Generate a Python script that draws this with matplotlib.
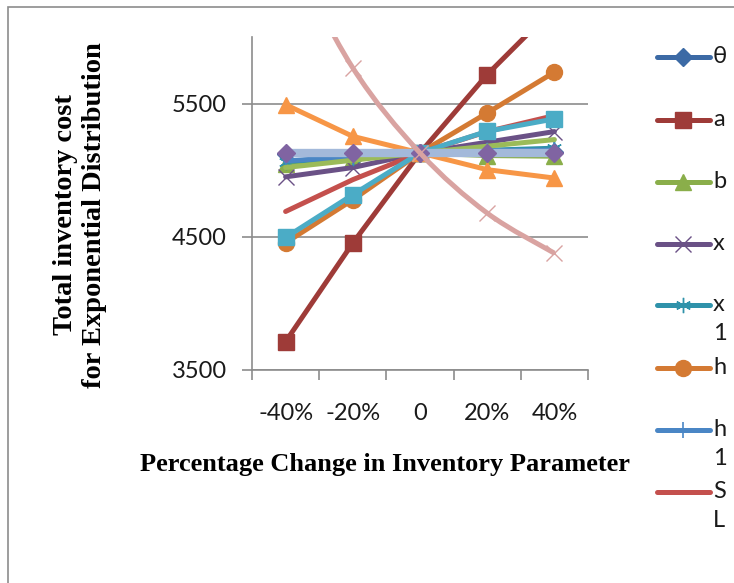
import matplotlib
matplotlib.use('Agg')
import matplotlib.pyplot as plt
from matplotlib.lines import Line2D
from matplotlib.path import Path
from matplotlib.patches import PathPatch, Rectangle

# sensitivity of total cost to each inventory parameter
changes = ['-40%', '-20%', '0', '20%', '40%']

theta = [5120, 5125, 5130, 5135, 5140]
a_cost = [3713, 4453, 5130, 5718, 6222]
b_cost = [5045, 5090, 5130, 5110, 5105]
x_cost = [4950, 5020, 5130, 5210, 5290]
x1_cost = [5065, 5095, 5130, 5150, 5165]
h_cost = [4455, 4778, 5130, 5430, 5736]
h1_cost = [5070, 5100, 5130, 5145, 5150]
sl_cost = [4690, 4929, 5130, 5290, 5410]
p9_cost = [4495, 4816, 5130, 5292, 5385]
p10_cost = [5020, 5075, 5130, 5180, 5230]
p11_cost = [5492, 5254, 5130, 5004, 4941]
p12_cost = [5130, 5130, 5130, 5130, 5130]
p13_cost = [5130, 5130, 5130, 5130, 5130]
p14_cost = [6700, 5768, 5130, 4678, 4377]

legend_names = ['θ', 'a', 'b', 'x', 'x\n1', 'h', 'h\n1', 'S\nL']

W, H = 734, 583
fig = plt.figure(figsize=(W / 100, H / 100), dpi=100)
ax = fig.add_axes([252 / W, 1 - 370 / H, 336 / W, 333 / H])

# frame round the chart area
fig.add_artist(Rectangle((8 / W, -0.1), 1.2, 1 - 7 / H + 0.1, transform=fig.transFigure,
                         fill=False, edgecolor='#8c8c8c', linewidth=1.2))

xs = list(range(len(changes)))
lw = 3.6

series = [
    (theta, dict(color='#3C6AA5', marker='D', ms=9)),
    (a_cost, dict(color='#9E3B38', marker='s', ms=11.5)),
    (b_cost, dict(color='#8AAE4A', marker='^', ms=12)),
    (x_cost, dict(color='#6A5186', marker='x', ms=11, mew=1.0)),
    (x1_cost, dict(color='#2F92AA', marker=(6, 2, 0), ms=11, mew=1.0)),
    (h_cost, dict(color='#D47A33', marker='o', ms=11.5)),
    (h1_cost, dict(color='#4A86C5', marker='|', ms=12, mew=1.2)),
    (sl_cost, dict(color='#C4504D', marker=None)),
    (p9_cost, dict(color='#4BACC6', marker='s', ms=11.5)),
    (p10_cost, dict(color='#9BBB59', marker=None)),
    (p11_cost, dict(color='#F79646', marker='^', ms=12)),
    (p12_cost, dict(color='#A3B9DA', marker=None, lw=6)),
    (p13_cost, dict(color='#8064A2', marker='D', ms=9, ls='none')),
]

for vals, st in series:
    ax.plot(xs, vals, color=st['color'], lw=st.get('lw', lw), ls=st.get('ls', '-'),
            marker=st['marker'], ms=st.get('ms', 0), mew=st.get('mew', 1.0),
            solid_capstyle='round', clip_on=True, zorder=3)

# smoothed pink line (bezier segments through the points)
pts = list(zip(xs, p14_cost))
verts = [pts[0]]
codes = [Path.MOVETO]
for i in range(len(pts) - 1):
    p0 = pts[max(i - 1, 0)]
    p1 = pts[i]
    p2 = pts[i + 1]
    p3 = pts[min(i + 2, len(pts) - 1)]
    c1 = (p1[0] + (p2[0] - p0[0]) / 6, p1[1] + (p2[1] - p0[1]) / 6)
    c2 = (p2[0] - (p3[0] - p1[0]) / 6, p2[1] - (p3[1] - p1[1]) / 6)
    verts += [c1, c2, p2]
    codes += [Path.CURVE4] * 3
ax.add_patch(PathPatch(Path(verts, codes), facecolor='none', edgecolor='#D9A3A1',
                       lw=lw, zorder=4))
ax.plot(xs, p14_cost, ls='none', marker='x', ms=12, mew=1.0, color='#D9A3A1', zorder=4)

ax.set_xlim(-0.5, 4.5)
ax.set_ylim(3500, 6000)
ax.set_yticks([3500, 4500, 5500])
ax.yaxis.grid(True, color='#8c8c8c', lw=1.2)
ax.set_axisbelow(True)

ax.set_xticks([i - 0.5 for i in range(len(changes) + 1)])
ax.set_xticklabels([])
ax.set_xticks(xs, minor=True)
ax.set_xticklabels(changes, minor=True)
ax.tick_params(axis='x', which='minor', length=0, pad=24)
ax.tick_params(axis='both', which='major', length=7, width=1.2, color='#8c8c8c')
ax.tick_params(axis='y', pad=11)

for lab in ax.get_xticklabels(minor=True) + ax.get_yticklabels():
    lab.set_fontfamily('Lato')
    lab.set_fontsize(17)
    lab.set_color('#1a1a1a')

for side in ['top', 'right']:
    ax.spines[side].set_visible(False)
for side in ['left', 'bottom']:
    ax.spines[side].set_color('#8c8c8c')
    ax.spines[side].set_linewidth(1.2)

fig.text(385 / W, 1 - 465 / H, 'Percentage Change in Inventory Parameter',
         ha='center', va='center', family='Liberation Serif', weight='bold', fontsize=19)
fig.text(80 / W, 1 - 215 / H, 'Total inventory cost\nfor Exponential Distribution',
         ha='center', va='center', rotation=90, linespacing=1.25,
         family='Liberation Serif', weight='bold', fontsize=20.5)

# legend for the first eight series
leg_y = [57, 120, 182, 244, 305, 368, 430, 492]
for (vals, st), name, yy in zip(series[:8], legend_names, leg_y):
    yf = 1 - yy / H
    fig.add_artist(Line2D([657 / W, 710 / W], [yf, yf], transform=fig.transFigure,
                          color=st['color'], lw=lw, solid_capstyle='round'))
    if st['marker'] is not None:
        fig.add_artist(Line2D([683 / W], [yf], transform=fig.transFigure, ls='none',
                              marker=st['marker'], ms=st.get('ms', 0),
                              mew=st.get('mew', 1.0), color=st['color']))
    fig.text(713 / W, yf + 11 / H, name, ha='left', va='top', family='Lato', fontsize=17,
             color='#1a1a1a', linespacing=1.45)

fig.savefig('out.png', dpi=100)
